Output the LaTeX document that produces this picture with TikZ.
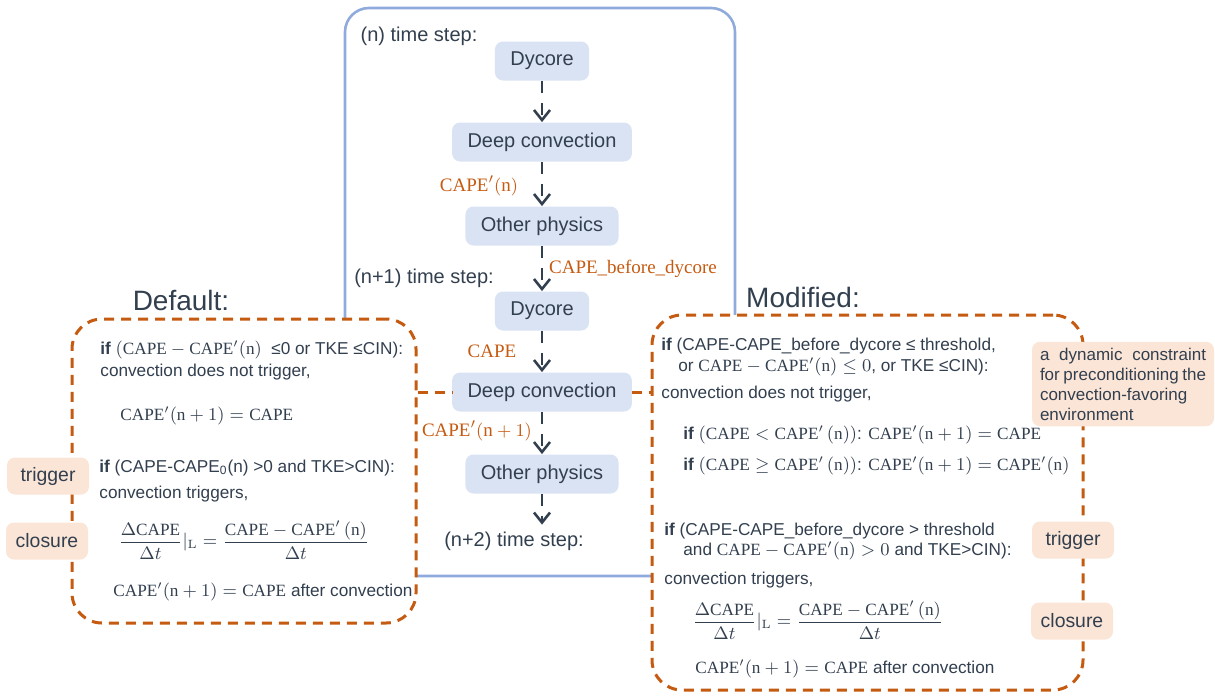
\documentclass[tikz,border=0pt]{standalone}
\usepackage{amsmath}
\usepackage[no-math]{fontspec}
\setmainfont{Liberation Sans}
\newfontfamily\seriffont{Liberation Serif}
\usetikzlibrary{arrows.meta,positioning}
\definecolor{inktext}{HTML}{323F4F}
\definecolor{stepfill}{HTML}{DAE3F3}
\definecolor{loopblue}{HTML}{8FAADC}
\definecolor{burnt}{HTML}{C55A11}
\definecolor{peach}{HTML}{FBE5D6}
\newcommand{\capev}{\text{\seriffont CAPE}}
\newcommand{\nv}{\text{\seriffont n}}
\tikzset{
  procbox/.style={fill=stepfill, rounded corners=4pt, text=inktext, font=\fontsize{10}{12}\selectfont, minimum height=19.5pt, inner xsep=7.7pt},
  flowarrow/.style={draw=inktext, line width=1.3pt, dash pattern=on 6pt off 5pt, -{Straight Barb[length=5pt,width=8pt,line width=1.3pt]}},
  schemebox/.style={draw=burnt, line width=1.5pt, dash pattern=on 5pt off 3.5pt, rounded corners=15pt, fill=white},
  linkdash/.style={draw=burnt, line width=1.5pt, dash pattern=on 5pt off 3.5pt},
  caption/.style={font=\fontsize{14}{16}\selectfont, text=inktext},
  stepnote/.style={font=\fontsize{10}{12}\selectfont, text=inktext},
  body/.style={anchor=west, inner sep=0pt, font=\fontsize{8.6}{11}\selectfont, text=inktext},
  capelabel/.style={text=burnt, font=\fontsize{9.5}{11}\selectfont},
  tagbox/.style={fill=peach, rounded corners=4pt, text=inktext, font=\fontsize{9.7}{11}\selectfont, minimum height=18.5pt, minimum width=41pt},
}

\begin{document}
\begin{tikzpicture}[x=0.5pt,y=0.5pt,yscale=-1,xscale=1]
\useasboundingbox (0,0) rectangle (1215,697);

%Shape: time loop frame
\draw [loopblue, line width=1.3pt, rounded corners=12pt] (345,8) rectangle (735,576);

%Shape: scheme boxes
\node [schemebox, minimum width=172pt, minimum height=152pt] (defaultbox) at (244,471) {};
\node [schemebox, minimum width=215.5pt, minimum height=187.5pt] (modbox) at (867.5,502.5) {};

% Text Node
\node [caption] (defaulthead) at (181,300) {Default:};
\node [caption] (modhead) at (803,297) {Modified:};

% time steps
\node [stepnote] (stepn) at (419,36) {(n) time step:};
\node [stepnote] (stepnone) at (424,278) {(n+1) time step:};
\node [stepnote] (stepntwo) at (514,541) {(n+2) time step:};

% process boxes
\node [procbox] (dycone) at (542,61) {Dycore};
\node [procbox] (dcone) at (542,142) {Deep convection};
\node [procbox] (othone) at (542,226) {Other physics};
\node [procbox] (dyctwo) at (542,311) {Dycore};
\node [procbox] (dctwo) at (542,392) {Deep convection};
\node [procbox] (othtwo) at (542,474) {Other physics};

%Straight Lines
\draw [flowarrow] (dycone) -- (dcone);
\draw [flowarrow] (dcone) -- (othone);
\draw [flowarrow] (othone) -- (dyctwo);
\draw [flowarrow] (dyctwo) -- (dctwo);
\draw [flowarrow] (dctwo) -- (othtwo);
\draw [flowarrow] (othtwo) -- (othtwo |- stepntwo.north);
\draw [linkdash] (defaultbox.east |- dctwo) -- (dctwo);
\draw [linkdash] (dctwo) -- (modbox.west |- dctwo);

% CAPE labels
\node [capelabel] (capen) at (479,186) {$\capev'(\nv)$};
\node [capelabel] (capebd) at (633,269) {\seriffont CAPE\_before\_dycore};
\node [capelabel] (capenow) at (492,351) {$\capev$};
\node [capelabel] (capenext) at (477,431) {$\capev'(\nv+1)$};

% default scheme
\node [body] (defa) at (100,350) {\textbf{if} $(\capev-\capev'(\nv)$\ \ ≤0 or TKE ≤CIN):};
\node [body] (defb) at (100,372) {convection does not trigger,};
\node [body] (defc) at (120,416) {$\capev'(\nv+1)=\capev$};
\node [body] (defd) at (99,468) {\textbf{if} (CAPE-CAPE\textsubscript{0}(n) >0 and TKE>CIN):};
\node [body] (defe) at (99,494) {convection triggers,};
\node [body] (deff) at (118,540) {$\dfrac{\Delta\capev}{\Delta t}|_{\mathrm{L}}=\dfrac{\capev-\capev'\,(\nv)}{\Delta t}$};
\node [body] (defg) at (113,592) {$\capev'(\nv+1)=\capev$ after convection};

% modified scheme
\node [body] (moda) at (661,346) {\textbf{if} (CAPE-CAPE\_before\_dycore ≤ threshold,};
\node [body] (modb) at (678,367) {or $\capev-\capev'(\nv)\leq 0$, or TKE ≤CIN):};
\node [body] (modc) at (661,394) {convection does not trigger,};
\node [body] (modd) at (683,435) {\textbf{if} $(\capev<\capev'\,(\nv))$: $\capev'(\nv+1)=\capev$};
\node [body] (mode) at (683,466) {\textbf{if} $(\capev\geq\capev'\,(\nv))$: $\capev'(\nv+1)=\capev'(\nv)$};
\node [body] (modf) at (664,531) {\textbf{if} (CAPE-CAPE\_before\_dycore > threshold};
\node [body] (modg) at (683,551) {and $\capev-\capev'(\nv)>0$ and TKE>CIN):};
\node [body] (modh) at (664,580) {convection triggers,};
\node [body] (modi) at (692,620) {$\dfrac{\Delta\capev}{\Delta t}|_{\mathrm{L}}=\dfrac{\capev-\capev'\,(\nv)}{\Delta t}$};
\node [body] (modj) at (695,669) {$\capev'(\nv+1)=\capev$ after convection};

% tags
\node [tagbox] (deftrig) at (48,476) {trigger};
\node [tagbox] (defclos) at (47,541) {closure};
\node [tagbox] (modtrig) at (1073,540) {trigger};
\node [tagbox] (modclos) at (1072,621) {closure};
\node [tagbox, font=\fontsize{8.5}{10}\selectfont, text width=83pt, align=justify, inner xsep=4pt, inner ysep=3pt] (modnote) at (1123,384) {a dynamic constraint for preconditioning the convection-favoring environment};

\end{tikzpicture}
\end{document}
